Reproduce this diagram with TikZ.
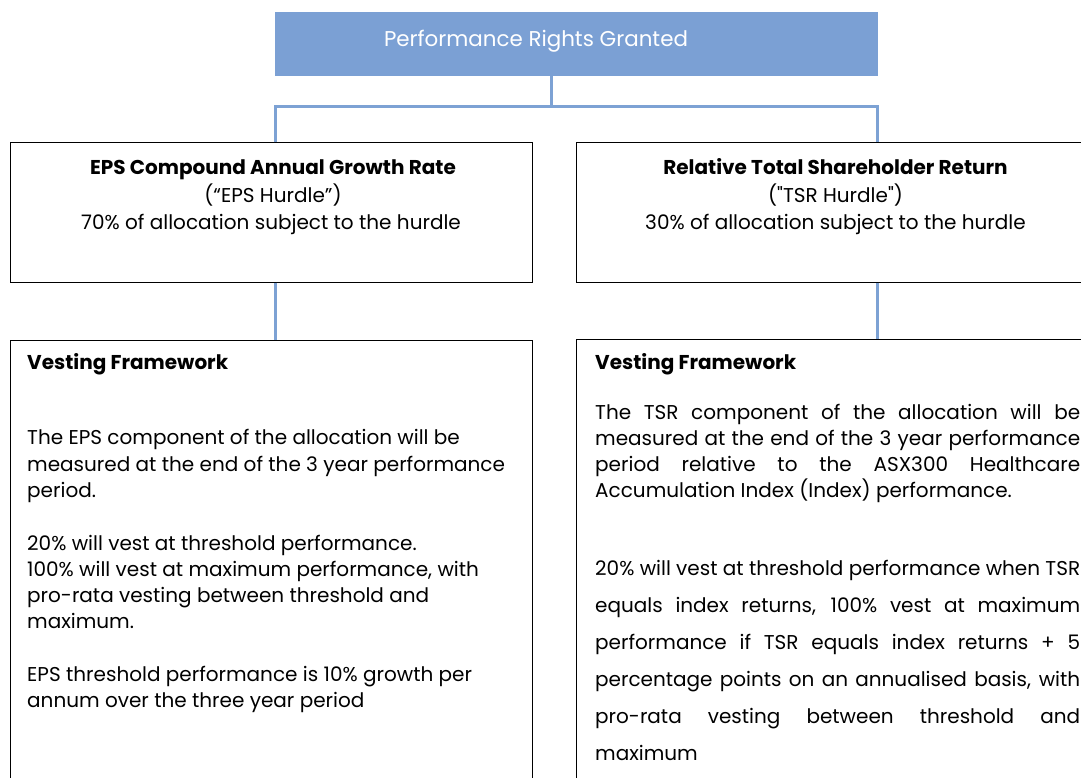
\documentclass[tikz,border=0pt]{standalone}
\usepackage{fontspec}
\setmainfont{Poppins}[Ligatures=TeXOff]
\definecolor{hdrblue}{RGB}{123,160,212}
\definecolor{lineblue}{RGB}{125,162,212}
\newcommand{\jl}[1]{\makebox[485pt][s]{#1}}
\newcommand{\bodyfnt}{\fontsize{20}{24}\selectfont}
\newcommand{\titlefnt}{\fontsize{21.4}{25}\selectfont}
\tikzset{
  frame/.style={draw=black, line width=1pt, rectangle, inner sep=0pt},
  hdr/.style={fill=hdrblue, draw=none, rectangle, inner sep=0pt},
  conn/.style={draw=lineblue, line width=3pt},
  lt/.style={anchor=mid west, inner sep=0pt, font=\bodyfnt},
  ct/.style={anchor=mid, inner sep=0pt, font=\bodyfnt},
}
\begin{document}
\begin{tikzpicture}[x=1pt,y=-1pt]
\useasboundingbox[fill=white] (0,0) rectangle (1081,778);
% boxes
\node[hdr, minimum width=603pt, minimum height=64pt] (top) at (576.5,44) {};
\node[frame, minimum width=522pt, minimum height=139pt] (eps) at (271,212.5) {};
\node[frame, minimum width=603pt, minimum height=139pt] (tsr) at (877.5,212.5) {};
\node[frame, minimum width=522pt, minimum height=460pt] (epsv) at (271,570) {};
\node[frame, minimum width=603pt, minimum height=460pt] (tsrv) at (877.5,569) {};
\coordinate (bus) at (551,107);
% connectors
\draw[conn] (top.south -| bus) -- (bus);
\draw[conn] ([xshift=4pt]eps.north) |- (bus) -| (tsr.north);
\draw[conn] ([xshift=4pt]eps.south) -- ([xshift=4pt]epsv.north);
\draw[conn] (tsr.south) -- (tsrv.north);
% title
\node[anchor=mid, inner sep=0pt, font=\titlefnt, text=white] (ttl) at (536,44) {Performance Rights Granted};
% EPS box text
\node[ct, font=\bodyfnt\bfseries] (e1) at (273,172) {EPS Compound Annual Growth Rate};
\node[ct] (e2) at (273,200) {(“EPS Hurdle”)};
\node[ct] (e3) at (271,227) {70\% of allocation subject to the hurdle};
% TSR box text
\node[ct, font=\bodyfnt\bfseries] (t1) at (835.5,172) {Relative Total Shareholder Return};
\node[ct] (t2) at (835.5,200) {("TSR Hurdle")};
\node[ct] (t3) at (835.5,227) {30\% of allocation subject to the hurdle};
% left vesting
\node[lt, font=\bodyfnt\bfseries] (lv0) at (27,367) {Vesting Framework};
\node[lt] (lv1) at (27,442) {The EPS component of the allocation will be};
\node[lt] (lv2) at (27,468.5) {measured at the end of the 3 year performance};
\node[lt] (lv3) at (27,495) {period.};
\node[lt] (lv4) at (27,548) {20\% will vest at threshold performance.};
\node[lt] (lv5) at (27,574) {100\% will vest at maximum performance, with};
\node[lt] (lv6) at (27,600) {pro-rata vesting between threshold and};
\node[lt] (lv7) at (27,626) {maximum.};
\node[lt] (lv8) at (27,679) {EPS threshold performance is 10\% growth per};
\node[lt] (lv9) at (27,705) {annum over the three year period};
% right vesting
\node[lt, font=\bodyfnt\bfseries] (rv0) at (595,367) {Vesting Framework};
\node[lt] (rv1) at (595,417) {\jl{The TSR component of the allocation will be}};
\node[lt] (rv2) at (595,443) {\jl{measured at the end of the 3 year performance}};
\node[lt] (rv3) at (595,469) {\jl{period relative to the ASX300 Healthcare}};
\node[lt] (rv4) at (595,495) {Accumulation Index (Index) performance.};
\node[lt] (rv5) at (595,573) {\jl{20\% will vest at threshold performance when TSR}};
\node[lt] (rv6) at (595,610) {\jl{equals index returns, 100\% vest at maximum}};
\node[lt] (rv7) at (595,647) {\jl{performance if TSR equals index returns + 5}};
\node[lt] (rv8) at (595,684) {\jl{percentage points on an annualised basis, with}};
\node[lt] (rv9) at (595,721) {\jl{pro-rata vesting between threshold and}};
\node[lt] (rv10) at (595,758) {maximum};
\end{tikzpicture}
\end{document}
